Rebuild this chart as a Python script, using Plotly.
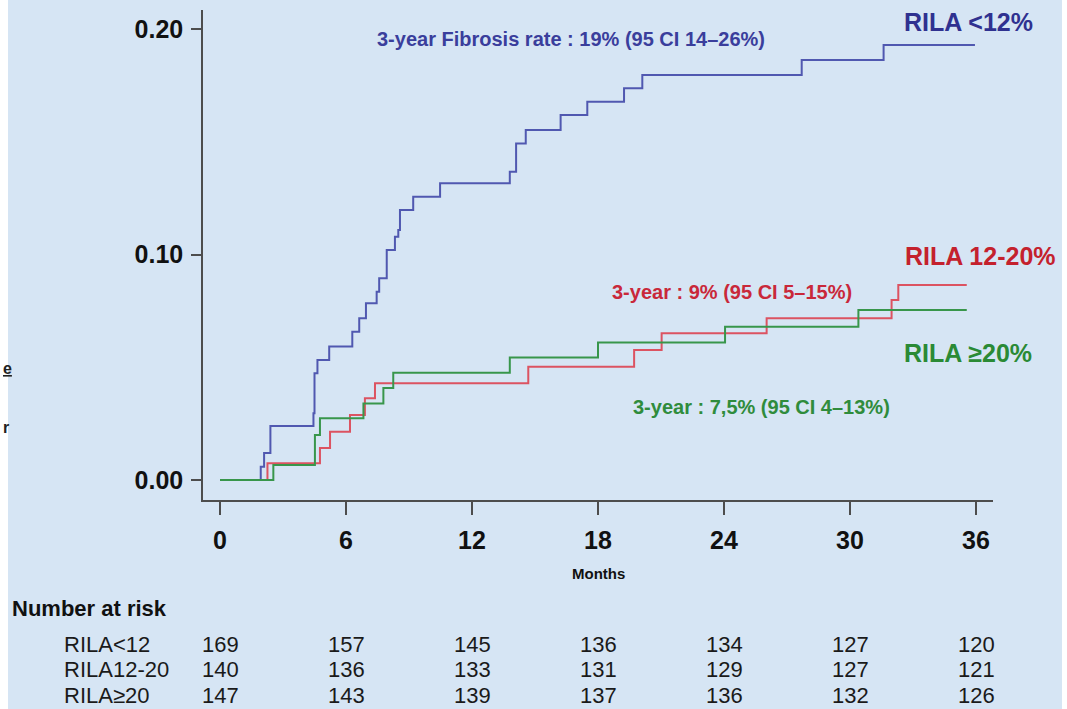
import plotly.graph_objects as go

# Cumulative incidence of fibrosis by RILA group (months, cumulative rate)
months_lt12 = [0, 1.94, 2.1, 2.4, 4.45, 4.5, 4.64, 5.2, 6.3, 6.63, 6.95, 7.46, 7.58,
               7.94, 8.33, 8.49, 8.57, 9.2, 10.48, 13.8, 14.1, 14.56, 16.22, 17.49,
               19.24, 20.11, 27.7, 31.6, 35.95]
rate_lt12 = [0, 0.0059, 0.012, 0.024, 0.0296, 0.0474, 0.0533, 0.0592, 0.0658, 0.0718,
             0.0784, 0.0836, 0.0895, 0.1021, 0.108, 0.111, 0.1198, 0.1257, 0.1317,
             0.1368, 0.1494, 0.1553, 0.162, 0.1679, 0.1739, 0.1798, 0.1864, 0.1931,
             0.1931]

months_12_20 = [0, 2.26, 4.76, 5.24, 6.19, 6.9, 7.38, 14.68, 19.72, 21.03, 26.03,
                31.98, 32.3, 35.56]
rate_12_20 = [0, 0.0074, 0.0142, 0.0214, 0.0289, 0.0363, 0.0429, 0.0503, 0.0577,
              0.0651, 0.0718, 0.0799, 0.0866, 0.0866]

months_ge20 = [0, 2.54, 4.52, 4.76, 6.83, 7.78, 8.25, 13.8, 18.0, 24.05, 30.4, 35.56]
rate_ge20 = [0, 0.0067, 0.02, 0.0274, 0.034, 0.0408, 0.0476, 0.0544, 0.061, 0.068,
             0.0755, 0.0755]

# Number at risk table
risk_months = [0, 6, 12, 18, 24, 30, 36]
risk_groups = ["RILA<12", "RILA12-20", "RILA≥20"]
risk_lt12 = [169, 157, 145, 136, 134, 127, 120]
risk_12_20 = [140, 136, 133, 131, 129, 127, 121]
risk_ge20 = [147, 143, 139, 137, 136, 132, 126]

x_ticks = [0, 6, 12, 18, 24, 30, 36]
y_ticks = [0.0, 0.1, 0.2]
y_ticktext = ["0.00", "0.10", "0.20"]

# Page geometry (pixels)
W, H = 1067, 709
L, R, T, B = 203, 993, 10, 500


def px(x):
    return (x - L) / (R - L)


def py(y):
    return (B - y) / (B - T)


FONT = "Liberation Sans, Arial, sans-serif"
BG = "#D6E5F4"
AXIS = "#4d4d4d"

fig = go.Figure()

series = [
    (months_lt12, rate_lt12, "#5058b0", "RILA <12%"),
    (months_12_20, rate_12_20, "#dc5361", "RILA 12-20%"),
    (months_ge20, rate_ge20, "#38964b", "RILA ≥20%"),
]
for m, r, c, name in series:
    fig.add_trace(go.Scatter(x=m, y=r, mode="lines", line=dict(color=c, width=2, shape="hv"),
                             name=name, showlegend=False, hoverinfo="skip"))

annotations = []


def text(x, y, s, size, color, bold=True, xanchor="center", xref="paper", yref="paper", family=FONT):
    annotations.append(dict(x=x, y=y, xref=xref, yref=yref, text=s, showarrow=False,
                            xanchor=xanchor, yanchor="middle",
                            font=dict(family=family, size=size, color=color,
                                      weight="bold" if bold else "normal")))


# Group labels and 3-year estimates
text(px(968), py(22), "RILA <12%", 25, "#2f3190")
text(px(980), py(256), "RILA 12-20%", 25, "#c4212d")
text(px(968), py(353), "RILA ≥20%", 25, "#2a8a35")
text(px(571), py(39), "3-year Fibrosis rate : 19% (95 CI 14–26%)", 20, "#3a3e9c")
text(px(732), py(292), "3-year : 9% (95 CI 5–15%)", 20, "#c9283a")
text(px(761), py(407), "3-year : 7,5% (95 CI 4–13%)", 20, "#2f8c3c")

# Axis title
text(px(598), py(573), "Months", 15, "#111111")

# Number at risk
text(px(10), py(608), "Number at risk", 22, "#111111", xanchor="left")
row_y = [644, 669, 695]
for g, vals, yy in zip(risk_groups, [risk_lt12, risk_12_20, risk_ge20], row_y):
    text(px(62), py(yy), g, 22, "#1a1a1a", bold=False, xanchor="left")
    for mo, v in zip(risk_months, vals):
        text(mo, py(yy), str(v), 22, "#1a1a1a", bold=False, xref="x")

# Slide text at the left edge
text(px(1), py(368), "<u>e</u>", 16, "#222222", xanchor="left")
text(px(1), py(427), "r", 16, "#222222", xanchor="left")

fig.update_layout(
    width=W, height=H,
    margin=dict(l=L, r=W - R, t=T, b=H - B, pad=0),
    paper_bgcolor="white",
    plot_bgcolor="rgba(0,0,0,0)",
    annotations=annotations,
    shapes=[dict(type="rect", xref="paper", yref="paper",
                 x0=px(8), x1=px(1062), y0=py(H), y1=py(0),
                 fillcolor=BG, line=dict(width=0), layer="below")],
    xaxis=dict(range=[(L - 220) / 21.0, (R - 220) / 21.0], tickvals=x_ticks,
               showline=True, linecolor=AXIS, linewidth=1.5, showgrid=False, zeroline=False,
               ticks="outside", ticklen=13, tickwidth=1.5, tickcolor=AXIS,
               ticklabelstandoff=4,
               tickfont=dict(family=FONT, size=25, color="#111111", weight="bold")),
    yaxis=dict(range=[-(B - 480) / 2253.0, (480 - T) / 2253.0], tickvals=y_ticks,
               ticktext=y_ticktext,
               showline=True, linecolor=AXIS, linewidth=1.5, showgrid=False, zeroline=False,
               ticks="outside", ticklen=10, tickwidth=1.5, tickcolor=AXIS,
               ticklabelstandoff=3,
               tickfont=dict(family=FONT, size=25, color="#111111", weight="bold")),
)

fig.write_html("out.html")
